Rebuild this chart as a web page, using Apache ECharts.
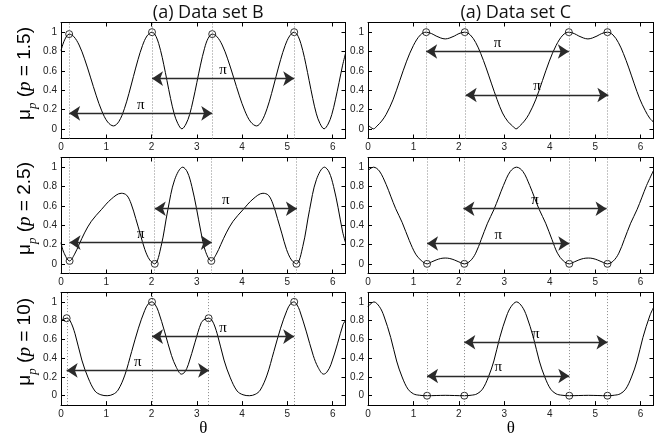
<!DOCTYPE html>
<html>
<head>
<meta charset="utf-8">
<title>mu_p</title>
<script src="https://cdn.jsdelivr.net/npm/echarts@6/dist/echarts.min.js"></script>
</head>
<body style="margin:0">
<div id="container" style="width:663px;height:438px"></div>
<script>
// ---- data ----
// data set B, p = 1.5
var thetaB15 = [0, 0.08, 0.18, 0.28, 0.4, 0.52, 0.65, 0.78, 0.9, 1.03, 1.16, 1.28, 1.4, 1.5, 1.6, 1.7, 1.8, 1.9, 2.01, 2.1, 2.2, 2.27, 2.34, 2.42, 2.5, 2.58, 2.67, 2.76, 2.84, 2.92, 3.0, 3.08, 3.17, 3.25, 3.34, 3.44, 3.56, 3.68, 3.81, 3.94, 4.06, 4.19, 4.32, 4.43, 4.55, 4.65, 4.75, 4.85, 4.95, 5.05, 5.15, 5.24, 5.34, 5.41, 5.48, 5.56, 5.64, 5.72, 5.81, 5.9, 5.98, 6.06, 6.14, 6.22, 6.283];
var muB15 = [0.81, 0.92, 0.98, 0.956, 0.867, 0.724, 0.535, 0.341, 0.186, 0.071, 0.03, 0.077, 0.208, 0.365, 0.542, 0.715, 0.862, 0.961, 1.0, 0.955, 0.809, 0.663, 0.5, 0.314, 0.155, 0.055, 0.0, 0.05, 0.147, 0.3, 0.478, 0.659, 0.833, 0.937, 0.98, 0.956, 0.867, 0.724, 0.535, 0.341, 0.186, 0.071, 0.03, 0.077, 0.208, 0.365, 0.542, 0.715, 0.862, 0.961, 1.0, 0.955, 0.809, 0.663, 0.5, 0.314, 0.155, 0.055, 0.0, 0.05, 0.147, 0.3, 0.478, 0.659, 0.78];
// data set C, p = 1.5
var thetaC15 = [0, 0.06, 0.12, 0.2, 0.3, 0.4, 0.55, 0.7, 0.85, 1.0, 1.15, 1.28, 1.4, 1.5, 1.6, 1.7, 1.8, 1.9, 2.0, 2.13, 2.25, 2.37, 2.48, 2.6, 2.72, 2.84, 2.96, 3.08, 3.18, 3.26, 3.34, 3.44, 3.54, 3.69, 3.84, 3.99, 4.14, 4.29, 4.42, 4.54, 4.64, 4.74, 4.84, 4.94, 5.04, 5.14, 5.27, 5.39, 5.51, 5.62, 5.74, 5.86, 5.98, 6.1, 6.2, 6.283];
var muC15 = [0.04, 0.015, 0.0, 0.03, 0.08, 0.15, 0.3, 0.5, 0.7, 0.863, 0.97, 1.0, 0.985, 0.96, 0.94, 0.93, 0.94, 0.96, 0.985, 1.0, 0.972, 0.893, 0.78, 0.63, 0.465, 0.304, 0.164, 0.075, 0.03, 0.0, 0.03, 0.08, 0.15, 0.3, 0.5, 0.7, 0.863, 0.97, 1.0, 0.985, 0.96, 0.94, 0.93, 0.94, 0.96, 0.985, 1.0, 0.972, 0.893, 0.78, 0.63, 0.465, 0.31, 0.19, 0.11, 0.07];
// data set B, p = 2.5
var thetaB25 = [0, 0.06, 0.19, 0.3, 0.4, 0.52, 0.67, 0.89, 1.11, 1.33, 1.45, 1.55, 1.65, 1.75, 1.85, 1.96, 2.07, 2.21, 2.36, 2.51, 2.69, 2.79, 2.89, 2.99, 3.09, 3.19, 3.32, 3.43, 3.53, 3.65, 3.8, 4.02, 4.24, 4.46, 4.58, 4.68, 4.78, 4.88, 4.98, 5.09, 5.2, 5.34, 5.49, 5.64, 5.82, 5.92, 6.02, 6.12, 6.22, 6.283];
var muB25 = [0.22, 0.12, 0.03, 0.1, 0.2, 0.32, 0.44, 0.56, 0.67, 0.73, 0.71, 0.62, 0.47, 0.31, 0.15, 0.04, 0.0, 0.18, 0.56, 0.87, 1.0, 0.95, 0.8, 0.58, 0.33, 0.13, 0.03, 0.1, 0.2, 0.32, 0.44, 0.56, 0.67, 0.73, 0.71, 0.62, 0.47, 0.31, 0.15, 0.04, 0.0, 0.18, 0.56, 0.87, 1.0, 0.95, 0.8, 0.58, 0.33, 0.22];
// data set C, p = 2.5
var thetaC25 = [0, 0.12, 0.25, 0.4, 0.5, 0.61, 0.75, 0.91, 1.05, 1.17, 1.3, 1.4, 1.5, 1.6, 1.7, 1.8, 1.9, 2.0, 2.12, 2.25, 2.37, 2.49, 2.63, 2.77, 2.88, 2.98, 3.13, 3.27, 3.41, 3.56, 3.66, 3.77, 3.91, 4.05, 4.17, 4.3, 4.43, 4.54, 4.64, 4.74, 4.85, 4.95, 5.05, 5.15, 5.27, 5.4, 5.52, 5.64, 5.78, 5.92, 6.03, 6.13, 6.283];
var muC25 = [0.965, 1.0, 0.96, 0.82, 0.7, 0.57, 0.43, 0.24, 0.1, 0.035, 0.0, 0.02, 0.04, 0.055, 0.06, 0.055, 0.04, 0.02, 0.0, 0.03, 0.11, 0.25, 0.42, 0.56, 0.69, 0.81, 0.955, 1.0, 0.955, 0.81, 0.69, 0.56, 0.42, 0.25, 0.11, 0.03, 0.0, 0.02, 0.04, 0.055, 0.06, 0.055, 0.04, 0.02, 0.0, 0.03, 0.11, 0.25, 0.42, 0.56, 0.69, 0.81, 0.965];
// data set B, p = 10
var thetaB10 = [0, 0.125, 0.2, 0.31, 0.46, 0.6, 0.75, 0.88, 1.02, 1.15, 1.26, 1.41, 1.56, 1.71, 1.85, 1.93, 2.01, 2.08, 2.15, 2.29, 2.44, 2.55, 2.66, 2.73, 2.81, 2.96, 3.1, 3.18, 3.26, 3.34, 3.45, 3.6, 3.74, 3.89, 4.02, 4.16, 4.29, 4.4, 4.55, 4.7, 4.85, 4.99, 5.07, 5.15, 5.21, 5.27, 5.42, 5.57, 5.68, 5.8, 5.87, 5.96, 6.11, 6.23, 6.283];
var muB10 = [0.8, 0.826, 0.8, 0.66, 0.38, 0.19, 0.05, 0.01, 0.0, 0.015, 0.06, 0.22, 0.47, 0.72, 0.91, 0.98, 1.0, 0.97, 0.9, 0.68, 0.43, 0.3, 0.23, 0.25, 0.33, 0.57, 0.78, 0.815, 0.826, 0.8, 0.66, 0.38, 0.19, 0.05, 0.01, 0.0, 0.015, 0.06, 0.22, 0.47, 0.72, 0.91, 0.98, 1.0, 0.97, 0.91, 0.68, 0.43, 0.3, 0.23, 0.25, 0.33, 0.56, 0.76, 0.8];
// data set C, p = 10
var thetaC10 = [0, 0.13, 0.25, 0.35, 0.5, 0.63, 0.75, 0.88, 1.0, 1.13, 1.3, 1.5, 1.7, 1.9, 2.12, 2.27, 2.4, 2.52, 2.65, 2.77, 2.9, 3.05, 3.15, 3.27, 3.39, 3.49, 3.64, 3.77, 3.89, 4.02, 4.14, 4.27, 4.43, 4.64, 4.85, 5.06, 5.27, 5.42, 5.55, 5.67, 5.8, 5.92, 6.05, 6.2, 6.283];
var muC10 = [0.95, 1.0, 0.95, 0.85, 0.62, 0.37, 0.2, 0.07, 0.02, 0.005, 0.0, 0.002, 0.004, 0.002, 0.0, 0.005, 0.02, 0.07, 0.2, 0.37, 0.62, 0.85, 0.95, 1.0, 0.95, 0.85, 0.62, 0.37, 0.2, 0.07, 0.02, 0.005, 0.0, 0.002, 0.004, 0.002, 0.0, 0.005, 0.02, 0.07, 0.2, 0.37, 0.62, 0.85, 0.94];

// circled points (also where the dotted lines go)
var markThetaB15 = [0.18, 2.01, 3.34, 5.15], markMuB15 = [0.98, 1.0, 0.98, 1.0];
var markThetaC15 = [1.28, 2.13, 4.42, 5.27], markMuC15 = [1.0, 1.0, 1.0, 1.0];
var markThetaB25 = [0.19, 2.07, 3.32, 5.2], markMuB25 = [0.03, 0.0, 0.03, 0.0];
var markThetaC25 = [1.3, 2.12, 4.43, 5.27], markMuC25 = [0.0, 0.0, 0.0, 0.0];
var markThetaB10 = [0.125, 2.01, 3.26, 5.15], markMuB10 = [0.826, 1.0, 0.826, 1.0];
var markThetaC10 = [1.3, 2.12, 4.43, 5.27], markMuC10 = [0.0, 0.0, 0.0, 0.0];

// double arrows: [from theta, to theta, height]
var arrowsB15 = [[0.18, 3.34, 0.16], [2.01, 5.15, 0.52]];
var arrowsC15 = [[1.28, 4.42, 0.8], [2.15, 5.29, 0.35]];
var arrowsB25 = [[0.19, 3.33, 0.22], [2.07, 5.21, 0.57]];
var arrowsC25 = [[2.1, 5.25, 0.57], [1.3, 4.43, 0.21]];
var arrowsB10 = [[0.125, 3.27, 0.27], [2.01, 5.15, 0.63]];
var arrowsC10 = [[2.12, 5.27, 0.57], [1.3, 4.43, 0.21]];

var xTicks = [0, 1, 2, 3, 4, 5, 6];
var yTicks = [0, 0.2, 0.4, 0.6, 0.8, 1];
var titles = ['(a) Data set B', '(a) Data set C'];
var pLabels = ['1.5', '2.5', '10'];

var panels = [
    {theta: thetaB15, mu: muB15, mt: markThetaB15, mm: markMuB15, arrows: arrowsB15},
    {theta: thetaC15, mu: muC15, mt: markThetaC15, mm: markMuC15, arrows: arrowsC15},
    {theta: thetaB25, mu: muB25, mt: markThetaB25, mm: markMuB25, arrows: arrowsB25},
    {theta: thetaC25, mu: muC25, mt: markThetaC25, mm: markMuC25, arrows: arrowsC25},
    {theta: thetaB10, mu: muB10, mt: markThetaB10, mm: markMuB10, arrows: arrowsB10},
    {theta: thetaC10, mu: muC10, mt: markThetaC10, mm: markMuC10, arrows: arrowsC10}
];

// ---- layout ----
var gridLeft = [61, 368];
var gridWidth = [284.5, 285.5];
var gridTop = [22.5, 157.5, 292.5];
var gridHeight = 116;

var sans = 'Liberation Sans, Arial, sans-serif';
var serif = 'Liberation Serif, DejaVu Serif, serif';
var axisLineStyle = {color: '#000', width: 1};

var grids = [], xAxes = [], yAxes = [], series = [];

panels.forEach(function (pn, i) {
    var row = Math.floor(i / 2), col = i % 2;
    grids.push({left: gridLeft[col], top: gridTop[row], width: gridWidth[col], height: gridHeight});

    // bottom + top x axes
    xAxes.push({
        gridIndex: i, type: 'value', position: 'bottom', min: 0, max: 2 * Math.PI,
        axisLine: {show: true, onZero: false, lineStyle: axisLineStyle},
        axisTick: {show: true, inside: true, length: 4, customValues: xTicks, lineStyle: axisLineStyle},
        axisLabel: {customValues: xTicks, margin: 4, color: '#222', fontSize: 10, fontFamily: sans},
        splitLine: {show: false},
        name: row === 2 ? 'θ' : '', nameLocation: 'middle', nameGap: 13,
        nameTextStyle: {fontFamily: serif, fontSize: 17, color: '#000'}
    });
    xAxes.push({
        gridIndex: i, type: 'value', position: 'top', min: 0, max: 2 * Math.PI,
        axisLine: {show: true, onZero: false, lineStyle: axisLineStyle},
        axisTick: {show: true, inside: true, length: 4, customValues: xTicks, lineStyle: axisLineStyle},
        axisLabel: {show: false},
        splitLine: {show: false}
    });

    // left + right y axes
    yAxes.push({
        gridIndex: i, type: 'value', position: 'left', min: -0.1, max: 1.1,
        axisLine: {show: true, onZero: false, lineStyle: axisLineStyle},
        axisTick: {show: true, inside: true, length: 4, customValues: yTicks, lineStyle: axisLineStyle},
        axisLabel: {customValues: yTicks, margin: 4, color: '#222', fontSize: 10, fontFamily: sans},
        splitLine: {show: false},
        name: col === 0 ? '{mu|μ}{sub|p}{n| (}{it|p}{n| = ' + pLabels[row] + ')}' : '',
        nameLocation: 'middle', nameGap: 21, nameRotate: 90,
        nameTextStyle: {
            color: '#000',
            padding: [0, 0, 0, 14],
            rich: {
                mu: {fontSize: 19, fontFamily: sans, lineHeight: 28, verticalAlign: 'middle', color: '#000'},
                sub: {fontSize: 13, fontFamily: serif, fontStyle: 'italic', lineHeight: 13, verticalAlign: 'bottom', color: '#000'},
                n: {fontSize: 19, fontFamily: sans, lineHeight: 28, verticalAlign: 'middle', color: '#000'},
                it: {fontSize: 19, fontFamily: serif, fontStyle: 'italic', lineHeight: 28, verticalAlign: 'middle', color: '#000'}
            }
        }
    });
    yAxes.push({
        gridIndex: i, type: 'value', position: 'right', min: -0.1, max: 1.1,
        axisLine: {show: true, onZero: false, lineStyle: axisLineStyle},
        axisTick: {show: true, inside: true, length: 4, customValues: yTicks, lineStyle: axisLineStyle},
        axisLabel: {show: false},
        splitLine: {show: false}
    });

    var curve = pn.theta.map(function (t, k) { return [t, pn.mu[k]]; });
    var marks = pn.mt.map(function (t, k) { return [t, pn.mm[k]]; });

    series.push({
        type: 'line', xAxisIndex: 2 * i, yAxisIndex: 2 * i,
        data: curve, smooth: 0.35, showSymbol: false, symbol: 'none',
        lineStyle: {color: '#000', width: 1},
        markLine: {
            silent: true, symbol: 'none', label: {show: false},
            lineStyle: {type: [1, 2], color: '#888', width: 1},
            data: pn.mt.map(function (t) { return {xAxis: t}; })
        },
        z: 3
    });
    series.push({
        type: 'scatter', xAxisIndex: 2 * i, yAxisIndex: 2 * i,
        data: marks, symbol: 'circle', symbolSize: 7,
        itemStyle: {color: 'rgba(0,0,0,0)', borderColor: '#000', borderWidth: 1},
        markLine: {
            silent: true, symbol: ['arrow', 'arrow'], symbolSize: 11,
            lineStyle: {type: 'solid', color: '#2a2a2a', width: 1.3},
            label: {show: true, position: 'middle', formatter: 'π', color: '#000',
                    fontFamily: serif, fontSize: 15, distance: 1},
            data: pn.arrows.map(function (a) {
                return [{coord: [a[0], a[2]]}, {coord: [a[1], a[2]]}];
            })
        },
        z: 4
    });
});

var titleList = titles.map(function (t, c) {
    return {
        text: t, left: gridLeft[c] + gridWidth[c] / 2, top: -1, textAlign: 'center',
        textStyle: {fontFamily: 'Open Sans, Noto Sans, sans-serif', fontSize: 18, fontWeight: 'normal', color: '#111'}
    };
});

var chart = echarts.init(document.getElementById('container'));
chart.setOption({
    animation: false,
    backgroundColor: '#fff',
    title: titleList,
    grid: grids,
    xAxis: xAxes,
    yAxis: yAxes,
    series: series
});
</script>
</body>
</html>
